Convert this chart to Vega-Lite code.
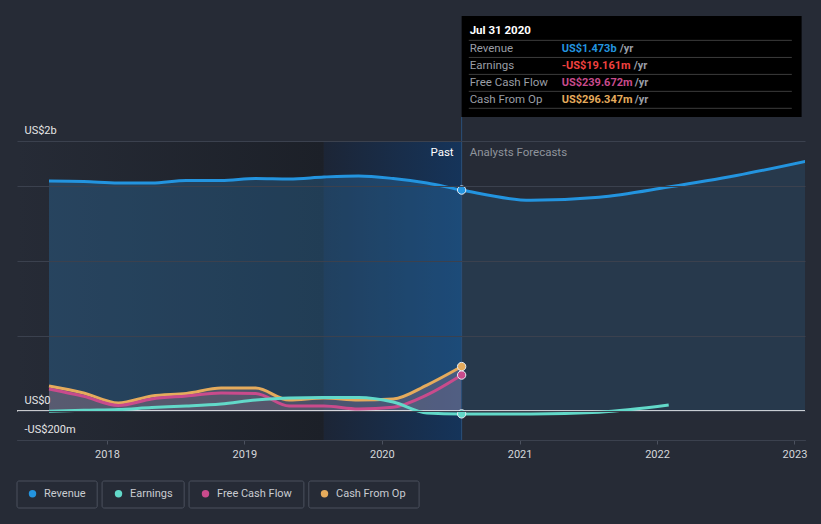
{
  "$schema": "https://vega.github.io/schema/vega-lite/v6.json",
  "width": 788,
  "height": 440,
  "padding": {"left": 17, "top": 0, "right": 16, "bottom": 84},
  "autosize": {"type": "none"},
  "background": "#262b36",
  "config": {
    "view": {"stroke": null},
    "font": "Roboto"
  },
  "datasets": {
    "d": [
      {"date": "2017-07-31", "series": "Revenue", "value": 1.533},
      {"date": "2017-10-31", "series": "Revenue", "value": 1.530},
      {"date": "2018-01-31", "series": "Revenue", "value": 1.520},
      {"date": "2018-04-30", "series": "Revenue", "value": 1.520},
      {"date": "2018-07-31", "series": "Revenue", "value": 1.537},
      {"date": "2018-10-31", "series": "Revenue", "value": 1.537},
      {"date": "2019-01-31", "series": "Revenue", "value": 1.550},
      {"date": "2019-04-30", "series": "Revenue", "value": 1.547},
      {"date": "2019-07-31", "series": "Revenue", "value": 1.560},
      {"date": "2019-10-31", "series": "Revenue", "value": 1.567},
      {"date": "2020-01-31", "series": "Revenue", "value": 1.550},
      {"date": "2020-04-30", "series": "Revenue", "value": 1.520},
      {"date": "2020-07-31", "series": "Revenue", "value": 1.473},
      {"date": "2021-01-31", "series": "Revenue", "value": 1.405},
      {"date": "2021-07-31", "series": "Revenue", "value": 1.425},
      {"date": "2022-01-31", "series": "Revenue", "value": 1.493},
      {"date": "2022-07-31", "series": "Revenue", "value": 1.570},
      {"date": "2023-01-31", "series": "Revenue", "value": 1.665},
      {"date": "2017-07-31", "series": "Earnings", "value": -0.002},
      {"date": "2017-10-31", "series": "Earnings", "value": 0.005},
      {"date": "2018-01-31", "series": "Earnings", "value": 0.010},
      {"date": "2018-04-30", "series": "Earnings", "value": 0.023},
      {"date": "2018-07-31", "series": "Earnings", "value": 0.033},
      {"date": "2018-10-31", "series": "Earnings", "value": 0.047},
      {"date": "2019-01-31", "series": "Earnings", "value": 0.073},
      {"date": "2019-04-30", "series": "Earnings", "value": 0.087},
      {"date": "2019-07-31", "series": "Earnings", "value": 0.090},
      {"date": "2019-10-31", "series": "Earnings", "value": 0.090},
      {"date": "2020-01-31", "series": "Earnings", "value": 0.060},
      {"date": "2020-04-30", "series": "Earnings", "value": -0.013},
      {"date": "2020-07-31", "series": "Earnings", "value": -0.0192},
      {"date": "2021-01-31", "series": "Earnings", "value": -0.020},
      {"date": "2021-07-31", "series": "Earnings", "value": -0.008},
      {"date": "2022-02-01", "series": "Earnings", "value": 0.040},
      {"date": "2017-07-31", "series": "Free Cash Flow", "value": 0.147},
      {"date": "2017-10-31", "series": "Free Cash Flow", "value": 0.098},
      {"date": "2018-01-31", "series": "Free Cash Flow", "value": 0.037},
      {"date": "2018-04-30", "series": "Free Cash Flow", "value": 0.080},
      {"date": "2018-07-31", "series": "Free Cash Flow", "value": 0.100},
      {"date": "2018-10-31", "series": "Free Cash Flow", "value": 0.120},
      {"date": "2019-01-31", "series": "Free Cash Flow", "value": 0.117},
      {"date": "2019-04-30", "series": "Free Cash Flow", "value": 0.033},
      {"date": "2019-07-31", "series": "Free Cash Flow", "value": 0.033},
      {"date": "2019-10-31", "series": "Free Cash Flow", "value": 0.013},
      {"date": "2020-01-31", "series": "Free Cash Flow", "value": 0.025},
      {"date": "2020-04-30", "series": "Free Cash Flow", "value": 0.107},
      {"date": "2020-07-31", "series": "Free Cash Flow", "value": 0.2397},
      {"date": "2017-07-31", "series": "Cash From Op", "value": 0.167},
      {"date": "2017-10-31", "series": "Cash From Op", "value": 0.120},
      {"date": "2018-01-31", "series": "Cash From Op", "value": 0.053},
      {"date": "2018-04-30", "series": "Cash From Op", "value": 0.100},
      {"date": "2018-07-31", "series": "Cash From Op", "value": 0.117},
      {"date": "2018-10-31", "series": "Cash From Op", "value": 0.153},
      {"date": "2019-01-31", "series": "Cash From Op", "value": 0.153},
      {"date": "2019-04-30", "series": "Cash From Op", "value": 0.073},
      {"date": "2019-07-31", "series": "Cash From Op", "value": 0.087},
      {"date": "2019-10-31", "series": "Cash From Op", "value": 0.073},
      {"date": "2020-01-31", "series": "Cash From Op", "value": 0.080},
      {"date": "2020-04-30", "series": "Cash From Op", "value": 0.173},
      {"date": "2020-07-31", "series": "Cash From Op", "value": 0.2963}
    ],
    "one": [{"k": 1}]
  },
  "layer": [
    {"data": {"name": "one"}, "mark": {"type": "rect", "color": {"gradient": "linear", "x1": 0, "y1": 0, "x2": 1, "y2": 0, "stops": [{"offset": 0, "color": "#262b36"}, {"offset": 1, "color": "#1c2028"}]}},
      "encoding": {"x": {"datum": {"year": 2017, "month": 5, "date": 7}, "type": "temporal"}, "x2": {"datum": {"year": 2019, "month": 7, "date": 31}}, "y": {"datum": 1.8, "type": "quantitative"}, "y2": {"datum": -0.1933}}},
    {"data": {"name": "one"}, "mark": {"type": "rect", "color": {"gradient": "linear", "x1": 0, "y1": 0, "x2": 1, "y2": 0, "stops": [{"offset": 0, "color": "#1c2536"}, {"offset": 1, "color": "#15345a"}]}},
      "encoding": {"x": {"datum": {"year": 2019, "month": 7, "date": 31}, "type": "temporal"}, "x2": {"datum": {"year": 2020, "month": 7, "date": 31}}, "y": {"datum": 1.8, "type": "quantitative"}, "y2": {"datum": -0.1933}}},
    {"data": {"name": "d"},
      "encoding": {
        "x": {"field": "date", "type": "temporal",
          "scale": {"domain": [{"year": 2017, "month": 5, "date": 7}, {"year": 2023, "month": 1, "date": 29}]},
          "axis": {"title": null, "format": "%Y", "tickCount": {"interval": "year", "step": 1}, "grid": false, "domainColor": "#4b515e", "tickColor": "#4b515e", "tickSize": 4, "labelColor": "#d5d7db", "labelFontSize": 11, "labelPadding": 4, "labelFont": "Roboto"}},
        "y": {"field": "value", "type": "quantitative",
          "scale": {"domain": [-0.1933, 2.74], "nice": false, "zero": false},
          "axis": {"title": null, "values": [-0.1933, 0, 0.5, 1, 1.5, 1.8], "grid": true, "gridColor": "#3b414e", "domain": false, "ticks": false, "tickSize": 0, "labelAlign": "left", "labelPadding": -7, "labelBaseline": "alphabetic", "labelOffset": -8, "labelExpr": "datum.value == 0 ? 'US$0' : datum.value == 1.8 ? 'US$2b' : datum.value < 0 ? '-US$200m' : ''", "labelColor": "#e5e5e5", "labelFontSize": 11, "labelFont": "Roboto", "zindex": 1}}
      },
      "layer": [
        {"transform": [{"filter": "datum.series == 'Revenue' && time(toDate(datum.date)) <= time(toDate('2020-07-31'))"}],
          "mark": {"type": "area", "interpolate": "monotone", "color": "#2d80c0", "opacity": 0.3}},
        {"transform": [{"filter": "datum.series == 'Revenue' && time(toDate(datum.date)) >= time(toDate('2020-07-31'))"}],
          "mark": {"type": "area", "interpolate": "monotone", "color": "#2d80c0", "opacity": 0.17, "clip": true}},
        {"transform": [{"filter": "datum.series == 'Cash From Op'"}],
          "mark": {"type": "area", "interpolate": "monotone", "color": "#c8909c", "opacity": 0.25}},
        {"transform": [{"filter": "datum.series == 'Free Cash Flow'"}],
          "mark": {"type": "area", "interpolate": "monotone", "color": "#c8909c", "opacity": 0.08}}
      ]
    },
    {"data": {"name": "one"}, "mark": {"type": "rule", "color": "#2b4f7a", "strokeWidth": 1},
      "encoding": {"x": {"datum": {"year": 2020, "month": 7, "date": 31}, "type": "temporal"}, "y": {"datum": 1.96, "type": "quantitative"}, "y2": {"datum": -0.1933}}},
    {"data": {"name": "one"}, "mark": {"type": "rule", "color": "#ffffff", "strokeWidth": 1.5},
      "encoding": {"y": {"datum": 0, "type": "quantitative"}}},
    {"data": {"name": "d"},
      "encoding": {
        "x": {"field": "date", "type": "temporal"},
        "y": {"field": "value", "type": "quantitative"}
      },
      "layer": [
        {"transform": [{"filter": "datum.series == 'Cash From Op'"}],
          "mark": {"type": "line", "interpolate": "monotone", "strokeWidth": 3, "color": "#e5ab5c"}},
        {"transform": [{"filter": "datum.series == 'Free Cash Flow'"}],
          "mark": {"type": "line", "interpolate": "monotone", "strokeWidth": 3, "color": "#c94b8c"}},
        {"transform": [{"filter": "datum.series == 'Earnings'"}],
          "mark": {"type": "line", "interpolate": "monotone", "strokeWidth": 3, "color": "#62d9c9"}},
        {"transform": [{"filter": "datum.series == 'Revenue'"}],
          "mark": {"type": "line", "interpolate": "monotone", "strokeWidth": 3, "color": "#2394df", "clip": true}},
        {"transform": [{"filter": "time(toDate(datum.date)) == time(toDate('2020-07-31'))"}],
          "mark": {"type": "circle", "size": 70, "stroke": "#e8eef5", "strokeWidth": 1, "opacity": 1},
          "encoding": {"color": {"field": "series", "type": "nominal",
            "scale": {"domain": ["Revenue", "Earnings", "Free Cash Flow", "Cash From Op"], "range": ["#2394df", "#62d9c9", "#c94b8c", "#e5ab5c"]},
            "legend": {"title": null, "orient": "none", "legendX": 10, "legendY": 488, "direction": "horizontal", "columns": 4, "symbolType": "circle", "symbolSize": 55, "symbolStrokeWidth": 0, "symbolOpacity": 1, "labelColor": "#c9ccd1", "labelFontSize": 11, "labelFont": "Roboto", "labelOffset": 6, "columnPadding": 27, "padding": 0}}}}
      ]
    },
    {"data": {"name": "one"}, "mark": {"type": "text", "text": "Past", "align": "right", "baseline": "middle", "dx": -8, "color": "#ffffff", "fontSize": 11.5},
      "encoding": {"x": {"datum": {"year": 2020, "month": 7, "date": 31}, "type": "temporal"}, "y": {"datum": 1.718, "type": "quantitative"}}},
    {"data": {"name": "one"}, "mark": {"type": "text", "text": "Analysts Forecasts", "align": "left", "baseline": "middle", "dx": 8, "color": "#8f949c", "fontSize": 11.5},
      "encoding": {"x": {"datum": {"year": 2020, "month": 7, "date": 31}, "type": "temporal"}, "y": {"datum": 1.718, "type": "quantitative"}}},
    {"data": {"name": "one"}, "mark": {"type": "rect", "color": "#000000"},
      "encoding": {"x": {"datum": {"year": 2020, "month": 7, "date": 31}, "type": "temporal"}, "x2": {"datum": {"year": 2023, "month": 1, "date": 20}}, "y": {"datum": 2.633, "type": "quantitative"}, "y2": {"datum": 1.96}}},
    {"data": {"name": "one"}, "mark": {"type": "rule", "color": "#3c3c3c"},
      "encoding": {"x": {"datum": {"year": 2020, "month": 8, "date": 19}, "type": "temporal"}, "x2": {"datum": {"year": 2022, "month": 12, "date": 25}}, "y": {"datum": 2.471, "type": "quantitative"}}},
    {"data": {"name": "one"}, "mark": {"type": "rule", "color": "#3c3c3c"},
      "encoding": {"x": {"datum": {"year": 2020, "month": 8, "date": 19}, "type": "temporal"}, "x2": {"datum": {"year": 2022, "month": 12, "date": 25}}, "y": {"datum": 2.357, "type": "quantitative"}}},
    {"data": {"name": "one"}, "mark": {"type": "rule", "color": "#3c3c3c"},
      "encoding": {"x": {"datum": {"year": 2020, "month": 8, "date": 19}, "type": "temporal"}, "x2": {"datum": {"year": 2022, "month": 12, "date": 25}}, "y": {"datum": 2.244, "type": "quantitative"}}},
    {"data": {"name": "one"}, "mark": {"type": "rule", "color": "#3c3c3c"},
      "encoding": {"x": {"datum": {"year": 2020, "month": 8, "date": 19}, "type": "temporal"}, "x2": {"datum": {"year": 2022, "month": 12, "date": 25}}, "y": {"datum": 2.131, "type": "quantitative"}}},
    {"data": {"name": "one"}, "mark": {"type": "rule", "color": "#3c3c3c"},
      "encoding": {"x": {"datum": {"year": 2020, "month": 8, "date": 19}, "type": "temporal"}, "x2": {"datum": {"year": 2022, "month": 12, "date": 25}}, "y": {"datum": 2.018, "type": "quantitative"}}},
    {"data": {"name": "one"}, "mark": {"type": "text", "text": "Jul 31 2020", "align": "left", "baseline": "middle", "dx": 8, "color": "#ffffff", "fontSize": 11.5, "fontWeight": "bold"},
      "encoding": {"x": {"datum": {"year": 2020, "month": 7, "date": 31}, "type": "temporal"}, "y": {"datum": 2.533, "type": "quantitative"}}},
    {"data": {"name": "one"}, "mark": {"type": "text", "text": ["Revenue", "Earnings", "Free Cash Flow", "Cash From Op"], "lineHeight": 17, "align": "left", "baseline": "top", "dx": 8, "dy": -5, "color": "#9a9ea5", "fontSize": 11.5},
      "encoding": {"x": {"datum": {"year": 2020, "month": 7, "date": 31}, "type": "temporal"}, "y": {"datum": 2.42, "type": "quantitative"}}},
    {"data": {"name": "one"}, "mark": {"type": "text", "text": "US$1.473b", "align": "left", "baseline": "middle", "dx": 100, "dy": 1, "color": "#2394df", "fontSize": 11, "fontWeight": "bold"},
      "encoding": {"x": {"datum": {"year": 2020, "month": 7, "date": 31}, "type": "temporal"}, "y": {"datum": 2.42, "type": "quantitative"}}},
    {"data": {"name": "one"}, "mark": {"type": "text", "text": "/yr", "align": "left", "baseline": "middle", "dx": 158, "dy": 1, "color": "#9a9ea5", "fontSize": 11, "fontWeight": "bold"},
      "encoding": {"x": {"datum": {"year": 2020, "month": 7, "date": 31}, "type": "temporal"}, "y": {"datum": 2.42, "type": "quantitative"}}},
    {"data": {"name": "one"}, "mark": {"type": "text", "text": "-US$19.161m", "align": "left", "baseline": "middle", "dx": 100, "dy": 1, "color": "#f0413f", "fontSize": 11, "fontWeight": "bold"},
      "encoding": {"x": {"datum": {"year": 2020, "month": 7, "date": 31}, "type": "temporal"}, "y": {"datum": 2.307, "type": "quantitative"}}},
    {"data": {"name": "one"}, "mark": {"type": "text", "text": "/yr", "align": "left", "baseline": "middle", "dx": 172, "dy": 1, "color": "#9a9ea5", "fontSize": 11, "fontWeight": "bold"},
      "encoding": {"x": {"datum": {"year": 2020, "month": 7, "date": 31}, "type": "temporal"}, "y": {"datum": 2.307, "type": "quantitative"}}},
    {"data": {"name": "one"}, "mark": {"type": "text", "text": "US$239.672m", "align": "left", "baseline": "middle", "dx": 100, "dy": 1, "color": "#c94b8c", "fontSize": 11, "fontWeight": "bold"},
      "encoding": {"x": {"datum": {"year": 2020, "month": 7, "date": 31}, "type": "temporal"}, "y": {"datum": 2.193, "type": "quantitative"}}},
    {"data": {"name": "one"}, "mark": {"type": "text", "text": "/yr", "align": "left", "baseline": "middle", "dx": 173, "dy": 1, "color": "#9a9ea5", "fontSize": 11, "fontWeight": "bold"},
      "encoding": {"x": {"datum": {"year": 2020, "month": 7, "date": 31}, "type": "temporal"}, "y": {"datum": 2.193, "type": "quantitative"}}},
    {"data": {"name": "one"}, "mark": {"type": "text", "text": "US$296.347m", "align": "left", "baseline": "middle", "dx": 100, "dy": 1, "color": "#e5ab5c", "fontSize": 11, "fontWeight": "bold"},
      "encoding": {"x": {"datum": {"year": 2020, "month": 7, "date": 31}, "type": "temporal"}, "y": {"datum": 2.08, "type": "quantitative"}}},
    {"data": {"name": "one"}, "mark": {"type": "text", "text": "/yr", "align": "left", "baseline": "middle", "dx": 173, "dy": 1, "color": "#9a9ea5", "fontSize": 11, "fontWeight": "bold"},
      "encoding": {"x": {"datum": {"year": 2020, "month": 7, "date": 31}, "type": "temporal"}, "y": {"datum": 2.08, "type": "quantitative"}}},
    {"data": {"name": "one"}, "mark": {"type": "rect", "fill": null, "stroke": "#4a505d", "strokeWidth": 1, "cornerRadius": 2, "clip": false},
      "encoding": {"x": {"datum": {"year": 2017, "month": 5, "date": 7}, "type": "temporal"}, "x2": {"datum": {"year": 2017, "month": 12, "date": 6}}, "y": {"datum": -0.4667, "type": "quantitative"}, "y2": {"datum": -0.6467}}},
    {"data": {"name": "one"}, "mark": {"type": "rect", "fill": null, "stroke": "#4a505d", "strokeWidth": 1, "cornerRadius": 2, "clip": false},
      "encoding": {"x": {"datum": {"year": 2017, "month": 12, "date": 19}, "type": "temporal"}, "x2": {"datum": {"year": 2018, "month": 7, "date": 25}}, "y": {"datum": -0.4667, "type": "quantitative"}, "y2": {"datum": -0.6467}}},
    {"data": {"name": "one"}, "mark": {"type": "rect", "fill": null, "stroke": "#4a505d", "strokeWidth": 1, "cornerRadius": 2, "clip": false},
      "encoding": {"x": {"datum": {"year": 2018, "month": 8, "date": 7}, "type": "temporal"}, "x2": {"datum": {"year": 2019, "month": 6, "date": 8}}, "y": {"datum": -0.4667, "type": "quantitative"}, "y2": {"datum": -0.6467}}},
    {"data": {"name": "one"}, "mark": {"type": "rect", "fill": null, "stroke": "#4a505d", "strokeWidth": 1, "cornerRadius": 2, "clip": false},
      "encoding": {"x": {"datum": {"year": 2019, "month": 6, "date": 21}, "type": "temporal"}, "x2": {"datum": {"year": 2020, "month": 4, "date": 9}}, "y": {"datum": -0.4667, "type": "quantitative"}, "y2": {"datum": -0.6467}}}
  ]
}
